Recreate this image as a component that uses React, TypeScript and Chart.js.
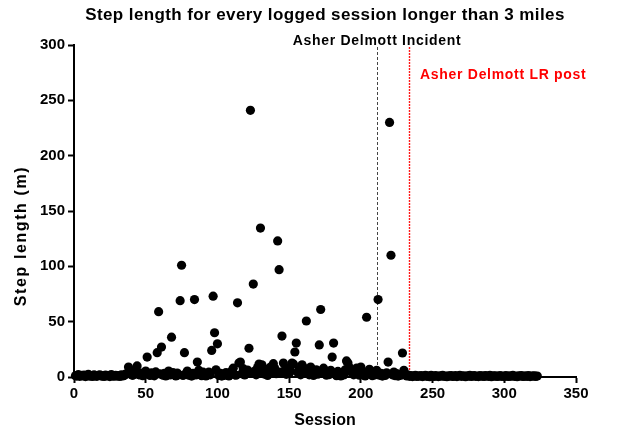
import { useEffect, useRef } from 'react'
import { Chart, registerables } from 'chart.js'

Chart.register(...registerables)

// step length (m) per logged session, sessions 1..323 in order
const stepLengths = [
  1.2, 0.8, 2.1, 0.6, 1.5, 0.9, 1.8, 0.4, 1.1, 2.4, 0.7, 1.3, 0.5, 1.9, 1.0, 0.6, 1.4, 2.0, 0.8, 1.1,
  0.5, 1.7, 0.9, 1.3, 0.4, 2.2, 1.0, 0.7, 1.6, 0.8, 1.2, 0.5, 1.9, 0.9, 1.4, 2.6, 3.1, 9.0, 4.2, 2.0,
  1.5, 3.0, 6.5, 10.0, 2.2, 1.8, 3.5, 1.2, 2.6, 5.4, 18.0, 2.4, 1.4, 3.8, 2.0, 1.1, 4.6, 22.0, 59.0, 2.8,
  27.0, 1.6, 3.2, 0.9, 2.5, 5.4, 1.8, 36.0, 4.0, 2.2, 1.0, 3.6, 2.0, 69.0, 101.0, 1.4, 22.0, 3.0, 5.4, 1.6,
  2.6, 0.8, 3.4, 70.0, 1.9, 13.5, 6.0, 2.2, 1.2, 4.4, 2.8, 1.0, 3.0, 4.5, 2.0, 24.0, 73.0, 40.0, 6.5, 30.0,
  1.4, 3.2, 0.8, 2.6, 1.5, 4.0, 2.2, 0.9, 3.8, 5.5, 8.0, 2.0, 1.6, 67.0, 12.6, 13.5, 3.0, 7.5, 1.8, 4.2,
  6.3, 26.0, 241.0, 3.5, 84.0, 5.4, 2.0, 8.5, 11.7, 134.6, 11.0, 4.0, 2.6, 6.8, 1.4, 3.5, 9.0, 5.0, 12.0, 7.6,
  3.0, 123.0, 97.0, 4.5, 37.0, 12.6, 6.0, 2.4, 8.0, 3.2, 5.5, 12.6, 11.7, 22.6, 30.7, 4.0, 6.8, 2.0, 11.0, 3.6,
  7.5, 50.6, 4.2, 2.0, 9.0, 5.8, 1.4, 3.8, 6.5, 2.6, 29.0, 61.0, 5.0, 8.0, 3.0, 1.6, 4.8, 2.2, 6.0, 18.0,
  30.7, 3.4, 1.2, 5.0, 2.4, 0.9, 3.0, 1.8, 6.4, 14.5, 12.6, 8.6, 5.2, 3.4, 2.0, 4.6, 8.0, 3.0, 1.6, 9.0,
  5.4, 2.2, 1.0, 54.0, 3.6, 7.0, 2.4, 1.2, 4.0, 2.0, 6.0, 70.0, 1.6, 3.2, 0.8, 2.6, 1.4, 3.8, 13.5, 230.0,
  110.0, 2.0, 4.5, 1.2, 3.0, 0.8, 2.2, 1.6, 21.7, 6.0, 2.4, 1.0, 1.8, 0.6, 1.2, 0.4, 0.9, 1.5, 0.5, 1.1,
  0.7, 1.3, 0.4, 0.9, 1.6, 0.6, 1.0, 0.3, 1.4, 0.8, 0.5, 1.2, 0.9, 0.4, 1.1, 0.7, 1.5, 0.6, 0.9, 0.3,
  1.0, 0.8, 1.3, 0.5, 0.7, 1.2, 0.4, 0.9, 1.4, 0.6, 1.0, 0.8, 0.3, 1.1, 0.7, 1.5, 0.5, 0.9, 1.2, 0.6,
  0.8, 0.4, 1.3, 0.7, 1.0, 0.5, 1.2, 0.9, 0.6, 1.4, 0.3, 1.0, 0.8, 1.1, 0.5, 0.7, 1.3, 0.6, 0.9, 0.4,
  1.2, 0.8, 0.5, 1.0, 0.7, 1.4, 0.6, 0.9, 0.3, 1.1, 0.8, 1.3, 0.5, 0.7, 1.0, 0.6, 1.2, 0.4, 0.9, 0.8,
  1.1, 0.5, 0.9,
]

const incidentSession = 211.3
const lrPostSession = 233.6
const incidentLabel = 'Asher Delmott Incident'
const lrPostLabel = 'Asher Delmott LR post'

const FONT = '"Liberation Sans", Arial, sans-serif'

// vertical marker lines and the free-standing texts
const markers = {
  id: 'markers',
  beforeDatasetsDraw(chart: Chart) {
    const { ctx, chartArea } = chart
    const x = chart.scales.x
    ctx.save()
    ctx.lineWidth = 1
    ctx.strokeStyle = '#444444'
    ctx.setLineDash([3, 2])
    const xi = Math.round(x.getPixelForValue(incidentSession)) + 0.5
    ctx.beginPath()
    ctx.moveTo(xi, chartArea.top + 2)
    ctx.lineTo(xi, chartArea.bottom)
    ctx.stroke()

    ctx.strokeStyle = '#ff1a1a'
    ctx.lineWidth = 1.4
    ctx.setLineDash([2, 1])
    const xp = Math.round(x.getPixelForValue(lrPostSession)) + 0.5
    ctx.beginPath()
    ctx.moveTo(xp, chartArea.top + 2)
    ctx.lineTo(xp, chartArea.bottom)
    ctx.stroke()
    ctx.restore()
  },
  afterDraw(chart: Chart) {
    const { ctx, chartArea } = chart
    const x = chart.scales.x
    const c = ctx as any
    ctx.save()
    ctx.textBaseline = 'middle'
    ctx.fillStyle = '#000'
    ctx.textAlign = 'center'
    ctx.font = `bold 17px ${FONT}`
    c.letterSpacing = '0.4px'
    ctx.fillText('Step length for every logged session longer than 3 miles', 325, 15)

    ctx.font = `bold 14px ${FONT}`
    c.letterSpacing = '0.7px'
    ctx.fillText(incidentLabel, x.getPixelForValue(incidentSession), chartArea.top - 4)

    ctx.fillStyle = '#ff0000'
    ctx.textAlign = 'left'
    ctx.fillText(lrPostLabel, x.getPixelForValue(lrPostSession) + 11, chartArea.top + 30)

    ctx.fillStyle = '#000'
    ctx.textAlign = 'center'
    ctx.font = `bold 16px ${FONT}`
    c.letterSpacing = '1.6px'
    ctx.translate(22, 236)
    ctx.rotate(-Math.PI / 2)
    ctx.fillText('Step length (m)', 0, 0)
    ctx.restore()
  },
}

export default function App() {
  const canvasRef = useRef<HTMLCanvasElement | null>(null)
  const chartRef = useRef<Chart | null>(null)

  useEffect(() => {
    if (!canvasRef.current) return
    if (chartRef.current) chartRef.current.destroy()

    chartRef.current = new Chart(canvasRef.current, {
      type: 'scatter',
      data: {
        datasets: [
          {
            label: 'Step length',
            data: stepLengths.map((v, i) => ({ x: i + 1, y: v })),
            backgroundColor: '#000',
            borderWidth: 0,
            pointRadius: 4.6,
            pointHoverRadius: 4.6,
            clip: false,
          },
        ],
      },
      options: {
        animation: false,
        responsive: true,
        maintainAspectRatio: false,
        layout: { padding: { left: 0, top: 45, right: 64, bottom: 0 } },
        plugins: {
          legend: { display: false },
          tooltip: { enabled: false },
        },
        scales: {
          x: {
            type: 'linear',
            min: 0,
            max: 350,
            afterFit: (scale: any) => { scale.height = 63 },
            ticks: {
              stepSize: 50,
              color: '#000',
              padding: 2,
              font: { family: FONT, size: 15, weight: 'bold' },
            },
            grid: { drawOnChartArea: false, drawTicks: true, tickLength: 6, tickWidth: 2, color: '#000' },
            border: { color: '#000', width: 2 },
            title: {
              display: true,
              text: 'Session',
              color: '#000',
              padding: { top: 0, bottom: 10 },
              font: { family: FONT, size: 16, weight: 'bold' },
            },
          },
          y: {
            min: 0,
            max: 300,
            afterFit: (scale: any) => { scale.width = 74 },
            ticks: {
              stepSize: 50,
              color: '#000',
              padding: 3,
              font: { family: FONT, size: 15, weight: 'bold' },
            },
            grid: { drawOnChartArea: false, drawTicks: true, tickLength: 6, tickWidth: 2, color: '#000' },
            border: { color: '#000', width: 2 },
          },
        },
      },
      plugins: [markers],
    })

    return () => {
      if (chartRef.current) {
        chartRef.current.destroy()
        chartRef.current = null
      }
    }
  }, [])

  return (
    <div style={{ position: 'absolute', left: 0, top: 0, width: 640, height: 440, background: '#fff' }}>
      <canvas ref={canvasRef}></canvas>
    </div>
  )
}
